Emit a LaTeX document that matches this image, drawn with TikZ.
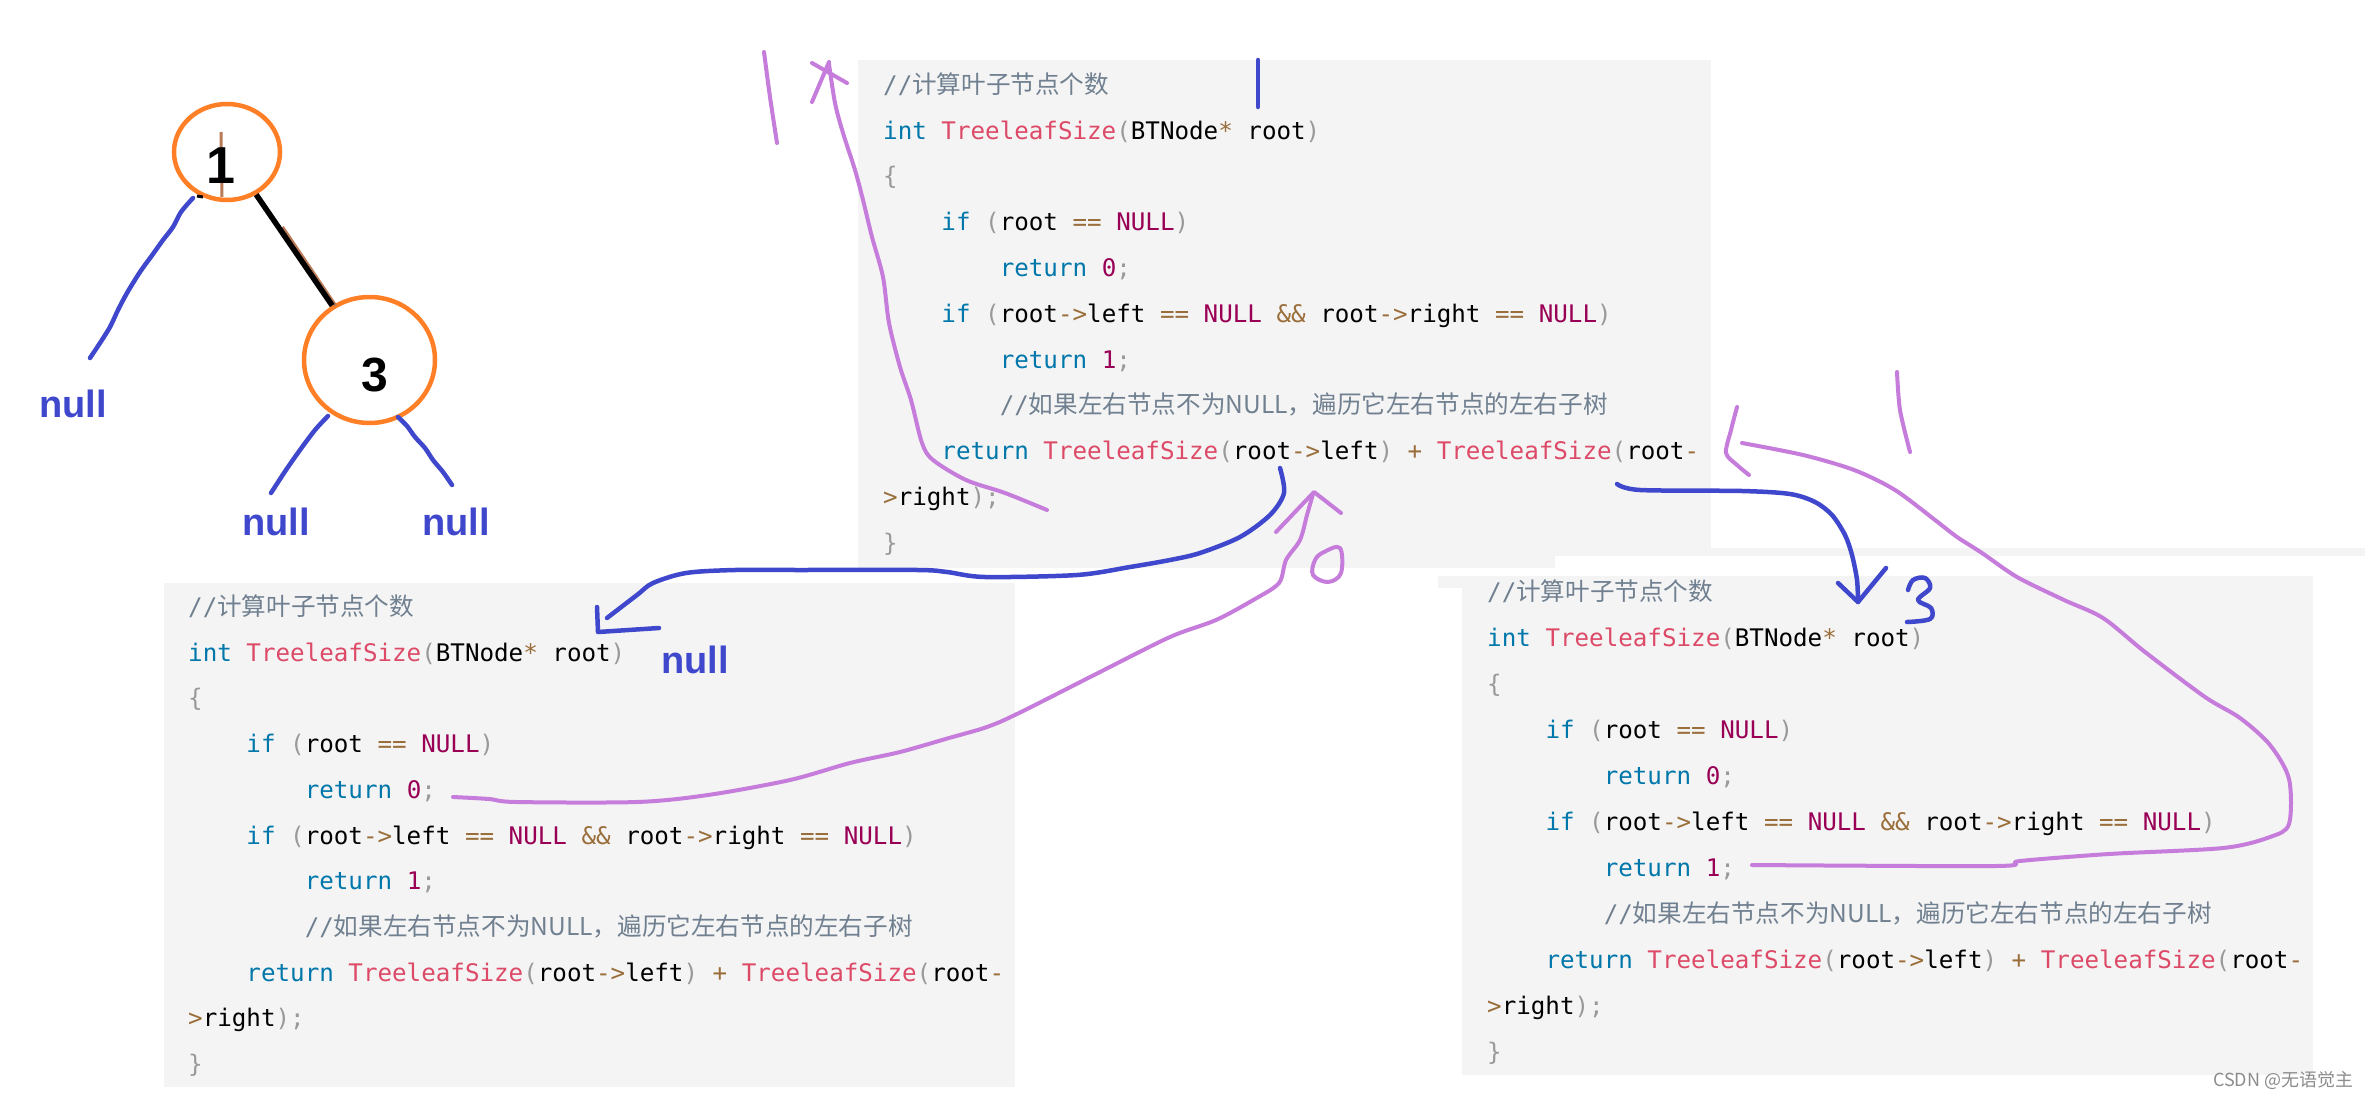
\documentclass[tikz,border=0pt]{standalone}
\usepackage{fontspec}
\newfontfamily\codefont{DejaVu Sans Mono}
\newfontfamily\cjkfont{Noto Sans CJK SC}
\newfontfamily\handfont{Liberation Sans}
\usetikzlibrary{shapes.geometric}
\definecolor{boxgray}{HTML}{F4F4F4}
\definecolor{ckwc}{HTML}{0077AA}
\definecolor{cfnc}{HTML}{DD4A68}
\definecolor{copc}{HTML}{9A6E3A}
\definecolor{cnumc}{HTML}{990055}
\definecolor{cpunc}{HTML}{999999}
\definecolor{ccomc}{HTML}{708090}
\definecolor{penblue}{HTML}{3F48CC}
\definecolor{penpurple}{HTML}{C67CDB}
\definecolor{nodeorange}{HTML}{FF7F27}
\definecolor{penbrown}{HTML}{B97A57}
\definecolor{wmgray}{HTML}{8C8C8C}
\newcommand\ckw[1]{\textcolor{ckwc}{#1}}
\newcommand\cfn[1]{\textcolor{cfnc}{#1}}
\newcommand\cop[1]{\textcolor{copc}{#1}}
\newcommand\cnu[1]{\textcolor{cnumc}{#1}}
\newcommand\cpu[1]{\textcolor{cpunc}{#1}}
\newcommand\ccm[1]{\textcolor{ccomc}{#1}}
\newcommand\cjkc{\cjkfont\fontsize{24.6}{29}\selectfont}
\def\codecw{14.57}
\newcommand\codeblock[4]{%
 \node[codeline] (#1l0) at ({#2},{#3}) {\ccm{//{\cjkc 计算叶子节点个数}}};
 \node[codeline] (#1l1) at ({#2},{#3+#4}) {\ckw{int} \cfn{TreeleafSize}\cpu{(}BTNode\cop{*} root\cpu{)}};
 \node[codeline] (#1l2) at ({#2},{#3+2*#4}) {\cpu{\{}};
 \node[codeline] (#1l3) at ({#2+4*\codecw},{#3+3*#4}) {\ckw{if} \cpu{(}root \cop{==} \cnu{NULL}\cpu{)}};
 \node[codeline] (#1l4) at ({#2+8*\codecw},{#3+4*#4}) {\ckw{return} \cnu{0}\cpu{;}};
 \node[codeline] (#1l5) at ({#2+4*\codecw},{#3+5*#4}) {\ckw{if} \cpu{(}root\cop{->}left \cop{==} \cnu{NULL} \cop{\&\&} root\cop{->}right \cop{==} \cnu{NULL}\cpu{)}};
 \node[codeline] (#1l6) at ({#2+8*\codecw},{#3+6*#4}) {\ckw{return} \cnu{1}\cpu{;}};
 \node[codeline] (#1l7) at ({#2+8*\codecw},{#3+7*#4}) {\ccm{//{\cjkc 如果左右节点不为NULL，遍历它左右节点的左右子树}}};
 \node[codeline] (#1l8) at ({#2+4*\codecw},{#3+8*#4}) {\ckw{return} \cfn{TreeleafSize}\cpu{(}root\cop{->}left\cpu{)} \cop{+} \cfn{TreeleafSize}\cpu{(}root\cop{-}};
 \node[codeline] (#1l9) at ({#2},{#3+9*#4}) {\cop{>}right\cpu{);}};
 \node[codeline] (#1l10) at ({#2},{#3+10*#4}) {\cpu{\}}};
}
\begin{document}
\begin{tikzpicture}[x=1pt,y=-1pt,
  codeline/.style={anchor=base west, inner sep=0pt, font=\codefont\fontsize{24.2}{29}\selectfont},
  treecirc/.style={ellipse, draw=nodeorange, line width=4.5pt, inner sep=0pt},
  digit/.style={inner sep=0pt, font=\handfont\bfseries\fontsize{52}{52}\selectfont, text=black},
  nulltext/.style={anchor=base west, inner sep=0pt, font=\handfont\bfseries\fontsize{38}{38}\selectfont, text=penblue},
  bluepen/.style={draw=penblue, line width=4.5pt, line cap=round, line join=round},
  purplepen/.style={draw=penpurple, line width=4pt, line cap=round, line join=round},
  brownpen/.style={draw=penbrown, line width=3pt}]
\useasboundingbox (0,0) rectangle (2365,1097);
\fill[white] (0,0) rectangle (2365,1097);
% code backgrounds
\fill[boxgray] (858,60) rectangle (1711,556);
\fill[boxgray] (858,556) rectangle (1555,568);
\fill[boxgray] (1711,548) rectangle (2365,556);
\fill[boxgray] (164,583) rectangle (1015,1087);
\fill[boxgray] (1438,576) rectangle (1462,588);
\fill[boxgray] (1462,576) rectangle (2313,1075);
% code
\codeblock{t}{883}{93.3}{45.8}
\codeblock{l}{188}{615.5}{45.7}
\codeblock{r}{1487}{600}{46}
% tree
\node[treecirc, minimum width=106pt, minimum height=96pt] (c1) at (227,152) {};
\node[treecirc, minimum width=131pt, minimum height=126pt] (c3) at (369.5,360) {};
\path (c1) -- (c3) coordinate[pos=0.3] (e13a) coordinate[pos=1] (e13b);
\draw[brownpen] ([xshift=3.5pt,yshift=1pt]e13a) -- ([xshift=3.5pt]e13b);
\draw[line width=5.5pt] (c1) -- (c3);
\draw[brownpen] (221,132) -- (222,197);
\node[digit] (d1) at (221,166) {1};
\node[digit, font=\handfont\bfseries\fontsize{48}{48}\selectfont] (d3) at (375,375) {3};
\draw[line width=3pt] (197,196) -- (203,197);
\draw[bluepen] plot[smooth] coordinates {(193,198) (181,212) (173,227) (163,240) (153,254) (140,272) (127,293) (118,310) (110,327) (100,343) (90,358)};
\draw[bluepen] plot[smooth] coordinates {(328,416) (315,430) (300,450) (286,470) (271,493)};
\draw[bluepen] plot[smooth] coordinates {(398,417) (407,426) (415,437) (425,448) (433,460) (443,472) (452,485)};
\node[nulltext] (n0) at (39,417) {null};
\node[nulltext] (n1) at (242,535) {null};
\node[nulltext] (n2) at (422,535) {null};
\node[nulltext] (n3) at (661,673) {null};
% purple strokes, top left
\draw[purplepen] plot[smooth] coordinates {(764,52) (770,97) (777,143)};
\draw[purplepen] plot[smooth] coordinates {(829,64) (835,103) (843,133) (855,170) (863,200) (872,237) (883,277) (889,323) (900,367) (911,400) (922,443) (933,460) (966,480) (1005,493) (1047,510)};
\draw[purplepen] (812,102) -- (829,62);
\draw[purplepen] (812,63) -- (847,83);
% blue vertical mark
\draw[bluepen] (1258,60) -- (1258,107);
% blue from root->left to lower-left block
\draw[bluepen] plot[smooth, tension=0.5] coordinates {(1280,468) (1284,493) (1270,515) (1240,537) (1200,553) (1170,560) (1130,567) (1077,575) (985,577) (947,572) (918,570) (800,570) (735,570) (686,573) (653,583) (637,595) (607,618)};
\draw[bluepen] (597,607) -- (598,632) -- (659,628);
% purple from return 0 up to root->left
\draw[purplepen] plot[smooth, tension=0.5] coordinates {(453,797) (489,799) (516,802) (637,802) (708,795) (790,780) (850,763) (900,752) (949,738) (987,727) (1019,713) (1100,672) (1170,637) (1216,620) (1255,599) (1279,583) (1286,560) (1300,540) (1307,515) (1313,494)};
\draw[purplepen] (1276,532) -- (1314,492) -- (1341,513);
\draw[purplepen] plot[smooth cycle, tension=0.6] coordinates {(1324,552) (1340,548) (1341,573) (1328,582) (1313,575) (1315,560)};
% blue from root->right to lower-right block
\draw[bluepen] plot[smooth, tension=0.5] coordinates {(1617,484) (1640,490) (1742,491) (1790,494) (1815,502) (1832,515) (1845,535) (1852,555) (1857,580) (1858,602)};
\draw[bluepen] (1838,583) -- (1858,602) -- (1886,568);
\draw[bluepen] plot[smooth, tension=0.6] coordinates {(1908,590) (1913,580) (1925,578) (1930,588) (1918,600) (1931,608) (1930,619) (1907,622)};
% purple loop from return 1 back up
\draw[purplepen] plot[smooth, tension=0.5] coordinates {(1752,865) (1996,866) (2020,861) (2109,854) (2223,848) (2270,837) (2289,824) (2289,779) (2270,745) (2240,718) (2205,697) (2145,652) (2103,618) (2064,600) (2017,577) (1982,553) (1957,537) (1935,520) (1895,490) (1854,470) (1803,455) (1742,443)};
\draw[purplepen] plot[smooth] coordinates {(1737,407) (1731,430) (1726,453) (1737,465) (1749,475)};
\draw[purplepen] plot[smooth] coordinates {(1897,372) (1900,410) (1910,452)};
% watermark
\node[anchor=base west, inner sep=0pt, text=wmgray, font=\cjkfont\fontsize{18}{20}\selectfont] (wm) at (2213,1086) {CSDN @无语觉主};
\end{tikzpicture}
\end{document}
